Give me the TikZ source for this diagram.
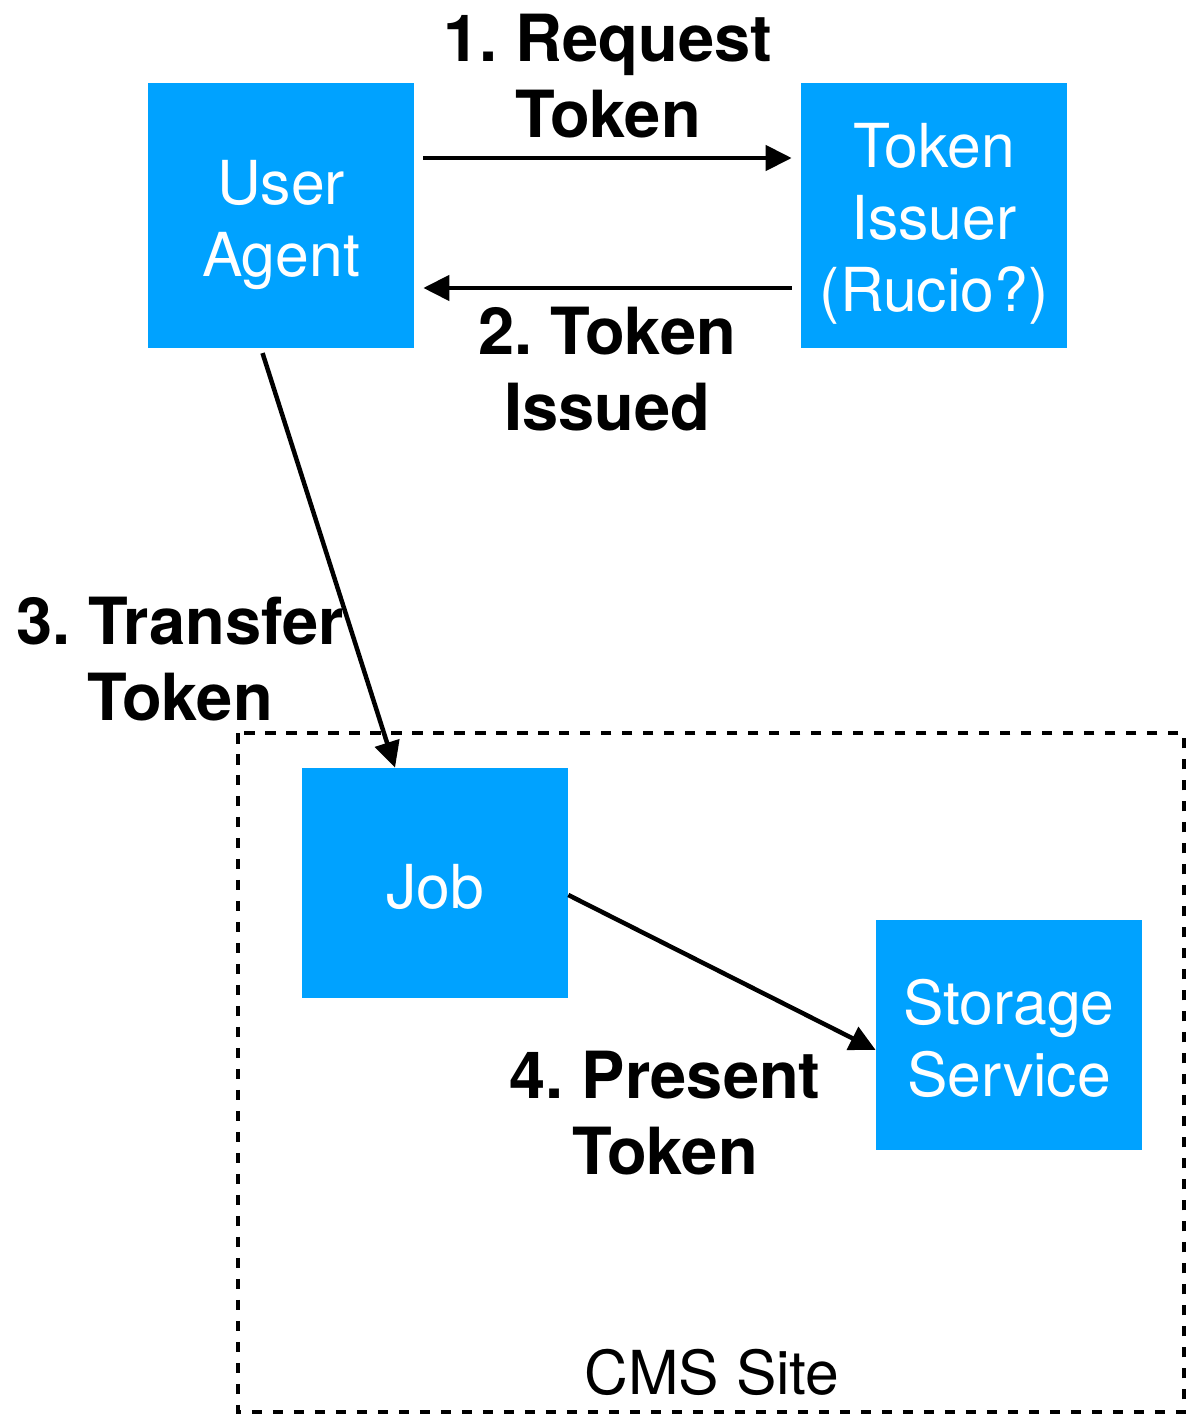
\documentclass[tikz,border=0pt]{standalone}
\usepackage{fontspec}
\setmainfont{TeX Gyre Heros}
\usetikzlibrary{arrows.meta}
\frenchspacing

\definecolor{boxblue}{HTML}{00A2FF}
% strut on the first line, sets box text a little below the middle
\newcommand{\toproom}[1]{\rule{0pt}{#1}}

\tikzset{
  block/.style={fill=boxblue, text=white, align=center, inner sep=0pt,
    minimum width=5.32cm, font=\fontsize{34.5pt}{41pt}\selectfont},
  tall/.style={minimum height=5.3cm},
  short/.style={minimum height=4.6cm},
  msg/.style={align=center, inner sep=0pt, font=\fontsize{37pt}{43pt}\selectfont\bfseries},
  arr/.style={line width=0.09cm, -{Triangle[length=0.52cm,width=0.5cm]}},
}

\begin{document}
\begin{tikzpicture}[x=0.02cm, y=-0.02cm]
\useasboundingbox (0,0) rectangle (1195,1415);

% site boundary
\draw[line width=0.09cm, dash pattern=on 0.21cm off 0.21cm] (238,733) rectangle (1184,1412);
\node[font=\fontsize{34.5pt}{41pt}\selectfont, inner sep=0pt] (sitelabel) at (712,1372) {CMS Site};

% the four parties
\node[block, tall]  (agent)   at (281,215.5) {\toproom{36pt}User\\Agent};
\node[block, tall]  (issuer)  at (934,215.5) {\toproom{35pt}Token\\Issuer\\(Rucio?)};
\node[block, short] (job)     at (435,883)   {\toproom{29.4pt}Job};
\node[block, short] (storage) at (1009,1035) {\toproom{29.4pt}Storage\\Service};

% token exchange
\draw[arr, shorten <=0.18cm, shorten >=0.18cm] ([yshift=1.15cm]agent.east) -- ([yshift=1.15cm]issuer.west);
\draw[arr, shorten <=0.18cm, shorten >=0.18cm] ([yshift=-1.45cm]issuer.west) -- ([yshift=-1.45cm]agent.west -| agent.east);
\draw[arr, shorten <=0.1cm] ([xshift=-0.4cm]agent.south) -- ([xshift=-0.8cm]job.north);
\draw[arr] ([yshift=-0.24cm]job.east) -- ([yshift=-0.3cm]storage.west);

% step labels
\node[msg] (req)      at (608,76)   {1. Request\\Token};
\node[msg] (issued)   at (607,369)  {2. Token\\Issued};
\node[msg] (transfer) at (180,659)  {3. Transfer\\Token};
\node[msg] (present)  at (665,1113) {4. Present\\Token};

\end{tikzpicture}
\end{document}
